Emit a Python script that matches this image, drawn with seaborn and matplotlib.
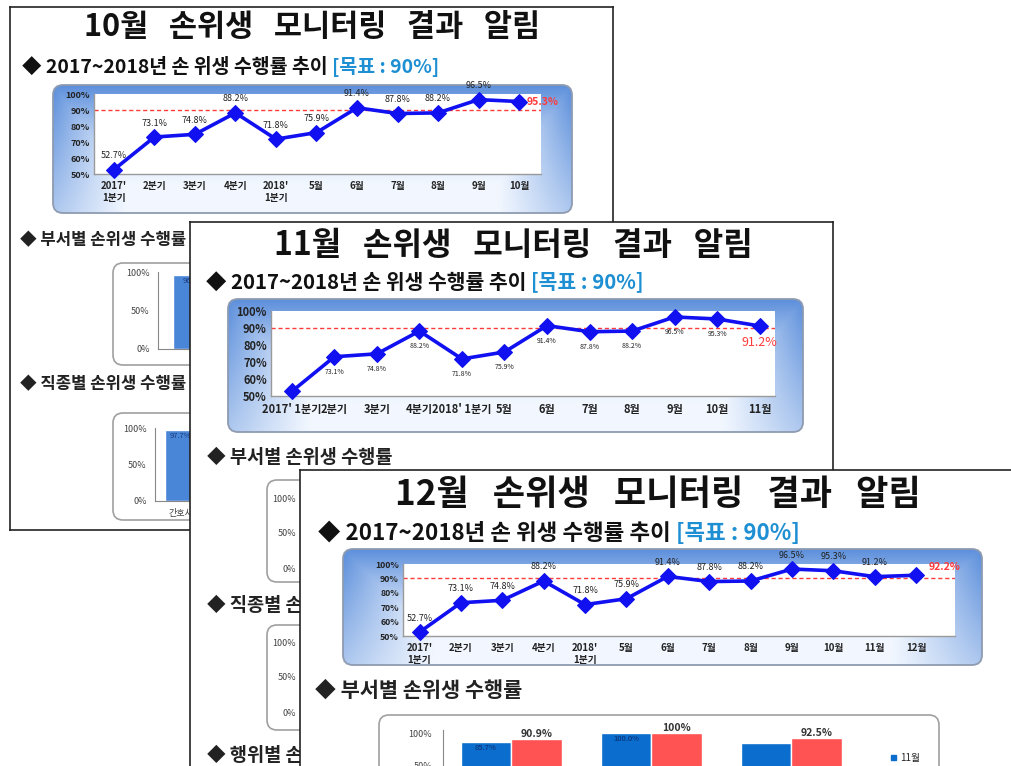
import numpy as np
import pandas as pd
import matplotlib
matplotlib.use("Agg")
import matplotlib.pyplot as plt
import seaborn as sns
from matplotlib.patches import FancyBboxPatch, Patch

sns.set_theme(style="white")
plt.rcParams['font.family'] = ['Noto Sans CJK KR', 'DejaVu Sans']

W, H = 1011, 766

# 손위생 수행률 추이 (2017 1분기 ~ 2018 12월)
periods = ["2017'\n1분기", "2분기", "3분기", "4분기", "2018'\n1분기", "5월", "6월",
           "7월", "8월", "9월", "10월", "11월", "12월"]
rates = [52.7, 73.1, 74.8, 88.2, 71.8, 75.9, 91.4, 87.8, 88.2, 96.5, 95.3, 91.2, 92.2]
target = 90

# 부서별 (12월 슬라이드)
depts = ["부서1", "부서2", "부서3"]
dept_nov = [85.7, 100.0, 85.0]
dept_dec = [90.9, 100.0, 92.5]
months = ["11월", "12월"]

# 10월 슬라이드 하단 (일부만 보임)
dept_oct = [96.7]
jobs = ["간호사"]
job_oct = [97.7]

BLUE_LINE = "#1010f0"
RED = "#ff3b3b"
KEY_BLUE = "#1e8fd2"

fig = plt.figure(figsize=(W / 100, H / 100), dpi=100)
fig.patch.set_facecolor("white")


def rect(x0, y0, x1, y1):
    return [x0 / W, 1 - y1 / H, (x1 - x0) / W, (y1 - y0) / H]


def slide(x0, y0, x1, y1):
    ax = fig.add_axes(rect(x0, y0, x1, y1))
    ax.set_xlim(x0, x1)
    ax.set_ylim(y1, y0)
    ax.set_xticks([])
    ax.set_yticks([])
    ax.set_facecolor("white")
    for s in ax.spines.values():
        s.set_color("#222222")
        s.set_linewidth(1.2)
    return ax


def grad_frame(ax, x0, y0, x1, y1):
    yy, xx = np.mgrid[0:1:120j, 0:1:240j]
    v = np.clip(1 - yy / 0.8, 0, 1) ** 1.4
    side = np.clip((np.abs(xx - 0.5) - 0.36) / 0.14, 0, 1) * (1 - 0.55 * yy)
    t = np.maximum(v, side)
    blue = np.array([0.36, 0.56, 0.86])
    light = np.array([0.95, 0.97, 1.0])
    img = (1 - t)[..., None] * light + t[..., None] * blue
    patch = FancyBboxPatch((x0, y0), x1 - x0, y1 - y0,
                           boxstyle="round,pad=0,rounding_size=10",
                           fc="none", ec="#8e9bb0", lw=1.3, zorder=2)
    ax.add_patch(patch)
    im = ax.imshow(img, extent=(x0, x1, y1, y0), aspect="auto", zorder=1)
    im.set_clip_path(patch)


def white_frame(ax, x0, y0, x1, y1):
    ax.add_patch(FancyBboxPatch((x0, y0), x1 - x0, y1 - y0,
                                boxstyle="round,pad=0,rounding_size=10",
                                fc="white", ec="#a0a0a0", lw=1.2, zorder=2))


def heading(ax, x, y, month, cx, ty, k):
    ax.text(cx, ty, f"{month}   손위생   모니터링   결과   알림", ha="center", va="center",
            fontsize=22 * k, fontweight="bold", color="#111111")
    t1 = ax.text(x, y, "◆ 2017~2018년 손 위생 수행률 추이 ", ha="left", va="center",
                 fontsize=14 * k, fontweight="bold", color="#111111")
    ax.annotate("[목표 : 90%]", xy=(1, 0.5), xycoords=t1, ha="left", va="center",
                fontsize=14 * k, fontweight="bold", color=KEY_BLUE)


def section(ax, x, y, text, k):
    ax.text(x, y, "◆ " + text, fontsize=12 * k, fontweight="bold",
            va="center", color="#222222")


def line_chart(box, n, xlim, mode, fs_x, fs_y, single=False):
    ax = fig.add_axes(rect(*box))
    df = pd.DataFrame({"pos": range(n), "rate": rates[:n]})
    ax.axhline(target, color=RED, ls=(0, (3, 2)), lw=1.0, zorder=1)
    sns.lineplot(data=df, x="pos", y="rate", ax=ax, color=BLUE_LINE, linewidth=2.6,
                 marker="D", markersize=8, markeredgecolor=BLUE_LINE, zorder=3,
                 clip_on=False)
    ax.set_xlim(*xlim)
    ax.set_ylim(50, 100)
    ax.set_facecolor("white")
    ax.set_xlabel("")
    ax.set_ylabel("")
    labs = [p.replace("\n", " ") for p in periods[:n]] if single else periods[:n]
    ax.set_xticks(range(n))
    ax.set_xticklabels(labs, fontsize=fs_x, fontweight="bold", color="#222222")
    ax.set_yticks(range(50, 101, 10))
    ax.set_yticklabels([f"{v}%" for v in range(50, 101, 10)], fontsize=fs_y,
                       fontweight="bold", color="#222222")
    ax.tick_params(axis="x", length=4, direction="inout", color="#999999", pad=3)
    ax.tick_params(axis="y", length=0, pad=3)
    for s in ["top", "right"]:
        ax.spines[s].set_visible(False)
    for s in ["left", "bottom"]:
        ax.spines[s].set_color("#9a9a9a")
        ax.spines[s].set_linewidth(1)
    for i in range(n):
        v = rates[i]
        last = i == n - 1
        if mode == "below":
            if i == 0:
                continue
            if last:
                ax.annotate(f"{v}%", (i, v), xytext=(0, -17), textcoords="offset pixels",
                            ha="center", va="center", fontsize=9, color=RED)
            else:
                ax.annotate(f"{v}%", (i, v), xytext=(0, -15), textcoords="offset pixels",
                            ha="center", va="center", fontsize=5, color="#222222")
        else:
            if last:
                dx, dy = (24, 0) if mode == "above1" else (28, 8)
                ax.annotate(f"{v}%", (i, v), xytext=(dx, dy), textcoords="offset pixels",
                            ha="center", va="center", fontsize=7.5, color=RED,
                            fontweight="bold")
            else:
                ax.annotate(f"{v}%", (i, v), xytext=(0, 14), textcoords="offset pixels",
                            ha="center", va="center", fontsize=6.5, color="#222222")
    return ax


def small_bar(box, names, vals, xlim, bar_w, show_x, label_fmt, fs=6.5):
    ax = fig.add_axes(rect(*box))
    df = pd.DataFrame({"name": names, "val": vals})
    sns.barplot(data=df, x="name", y="val", ax=ax, color="#4a86d8", width=bar_w,
                saturation=1)
    ax.set_xlim(*xlim)
    ax.set_ylim(0, 100)
    ax.set_yticks([0, 50, 100])
    ax.set_yticklabels(["0%", "50%", "100%"], fontsize=fs, color="#444444")
    ax.set_xlabel("")
    ax.set_ylabel("")
    ax.tick_params(length=0, pad=6)
    if show_x:
        ax.set_xticks(range(len(names)))
        ax.set_xticklabels(names, fontsize=fs, color="#444444")
    else:
        ax.set_xticks([])
    for s in ["top", "right"]:
        ax.spines[s].set_visible(False)
    for s in ["left", "bottom"]:
        ax.spines[s].set_color("#888888")
        ax.spines[s].set_linewidth(0.8)
    ax.patch.set_alpha(0)
    for i, v in enumerate(vals):
        ax.text(i, v - 8, label_fmt.format(v), ha="center", va="center",
                fontsize=5.5, color="#1a3a7a")
    return ax


# ---------------- 10월 slide ----------------
s1 = slide(10, 7, 613, 530)
heading(s1, 22, 67, "10월", 312, 27, 1.0)
grad_frame(s1, 53, 85, 572, 213)
section(s1, 20, 240, "부서별 손위생 수행률", 1.0)
white_frame(s1, 113, 263, 420, 365)
section(s1, 20, 384, "직종별 손위생 수행률", 1.0)
white_frame(s1, 113, 413, 420, 520)
line_chart((94, 94, 541, 174), 11, (-0.49, 10.54), "above1", 7, 6.5)
small_bar((158, 272, 360, 349), ["부서"], dept_oct, (-0.35, 1.65), 0.4, False, "{}%")
small_bar((155, 428, 360, 501), jobs, job_oct, (-0.25, 1.75), 0.3, True, "{}%")

# ---------------- 11월 slide ----------------
s2 = slide(190, 222, 833, 800)
heading(s2, 206, 282, "11월", 513, 245, 1.05)
grad_frame(s2, 228, 299, 803, 432)
section(s2, 207, 457, "부서별 손위생 수행률", 1.12)
white_frame(s2, 267, 480, 600, 582)
section(s2, 207, 605, "직종별 손위생 수행률", 1.12)
white_frame(s2, 267, 625, 600, 730)
section(s2, 207, 755, "행위별 손위생 수행률", 1.12)
for yy, lab in [(500, "100%"), (533, "50%"), (570, "0%"),
                (643, "100%"), (678, "50%"), (713, "0%")]:
    s2.text(296, yy, lab, ha="right", va="center", fontsize=6.5, color="#444444")
line_chart((271, 311, 775, 396), 12, (-0.49, 11.36), "below", 8, 8, single=True)

# ---------------- 12월 slide ----------------
s3 = slide(300, 470, 1015, 800)
heading(s3, 318, 533, "12월", 658, 494, 1.15)
grad_frame(s3, 343, 549, 982, 665)
section(s3, 315, 690, "부서별 손위생 수행률", 1.25)
white_frame(s3, 379, 715, 939, 800)
line_chart((403, 564, 955, 636), 13, (-0.4, 12.94), "above3", 7, 6.3)

# 부서별 막대
long = pd.DataFrame({
    "dept": depts * 2,
    "month": [months[0]] * 3 + [months[1]] * 3,
    "val": dept_nov + dept_dec,
})
bx = fig.add_axes(rect(443, 730, 870, 797))
sns.barplot(data=long, x="dept", y="val", hue="month", ax=bx, width=0.72,
            palette={"11월": "#0b6dcd", "12월": "#ff5252"}, saturation=1, legend=False)
bx.set_xlim(-0.486, 2.56)
bx.set_ylim(0, 105)
bx.set_yticks([50, 100])
bx.set_yticklabels(["50%", "100%"], fontsize=6.5, color="#444444")
bx.set_xticks([])
bx.set_xlabel("")
bx.set_ylabel("")
bx.tick_params(length=0, pad=8)
for s in ["top", "right", "bottom"]:
    bx.spines[s].set_visible(False)
bx.spines["left"].set_color("#888888")
bx.spines["left"].set_linewidth(0.8)
bx.patch.set_alpha(0)
for i, v in enumerate(dept_dec):
    bx.text(i + 0.18, v + 8, f"{v:g}%", ha="center", va="center", fontsize=7.5,
            fontweight="bold", color="#333333")
for i, v in enumerate(dept_nov[:2]):
    bx.text(i - 0.18, v - 9, f"{v:.1f}%", ha="center", va="center", fontsize=5.5,
            color="#0a2a6a")
# only the 11월 entry fits inside the visible part of the slide
bx.legend(handles=[Patch(color="#0b6dcd", label=months[0])],
          loc="center left", bbox_to_anchor=(882 / W, 1 - 758 / H),
          bbox_transform=fig.transFigure, frameon=False, fontsize=7,
          handlelength=0.5, handleheight=0.5, handletextpad=0.5)

fig.savefig("out.png", dpi=100)
